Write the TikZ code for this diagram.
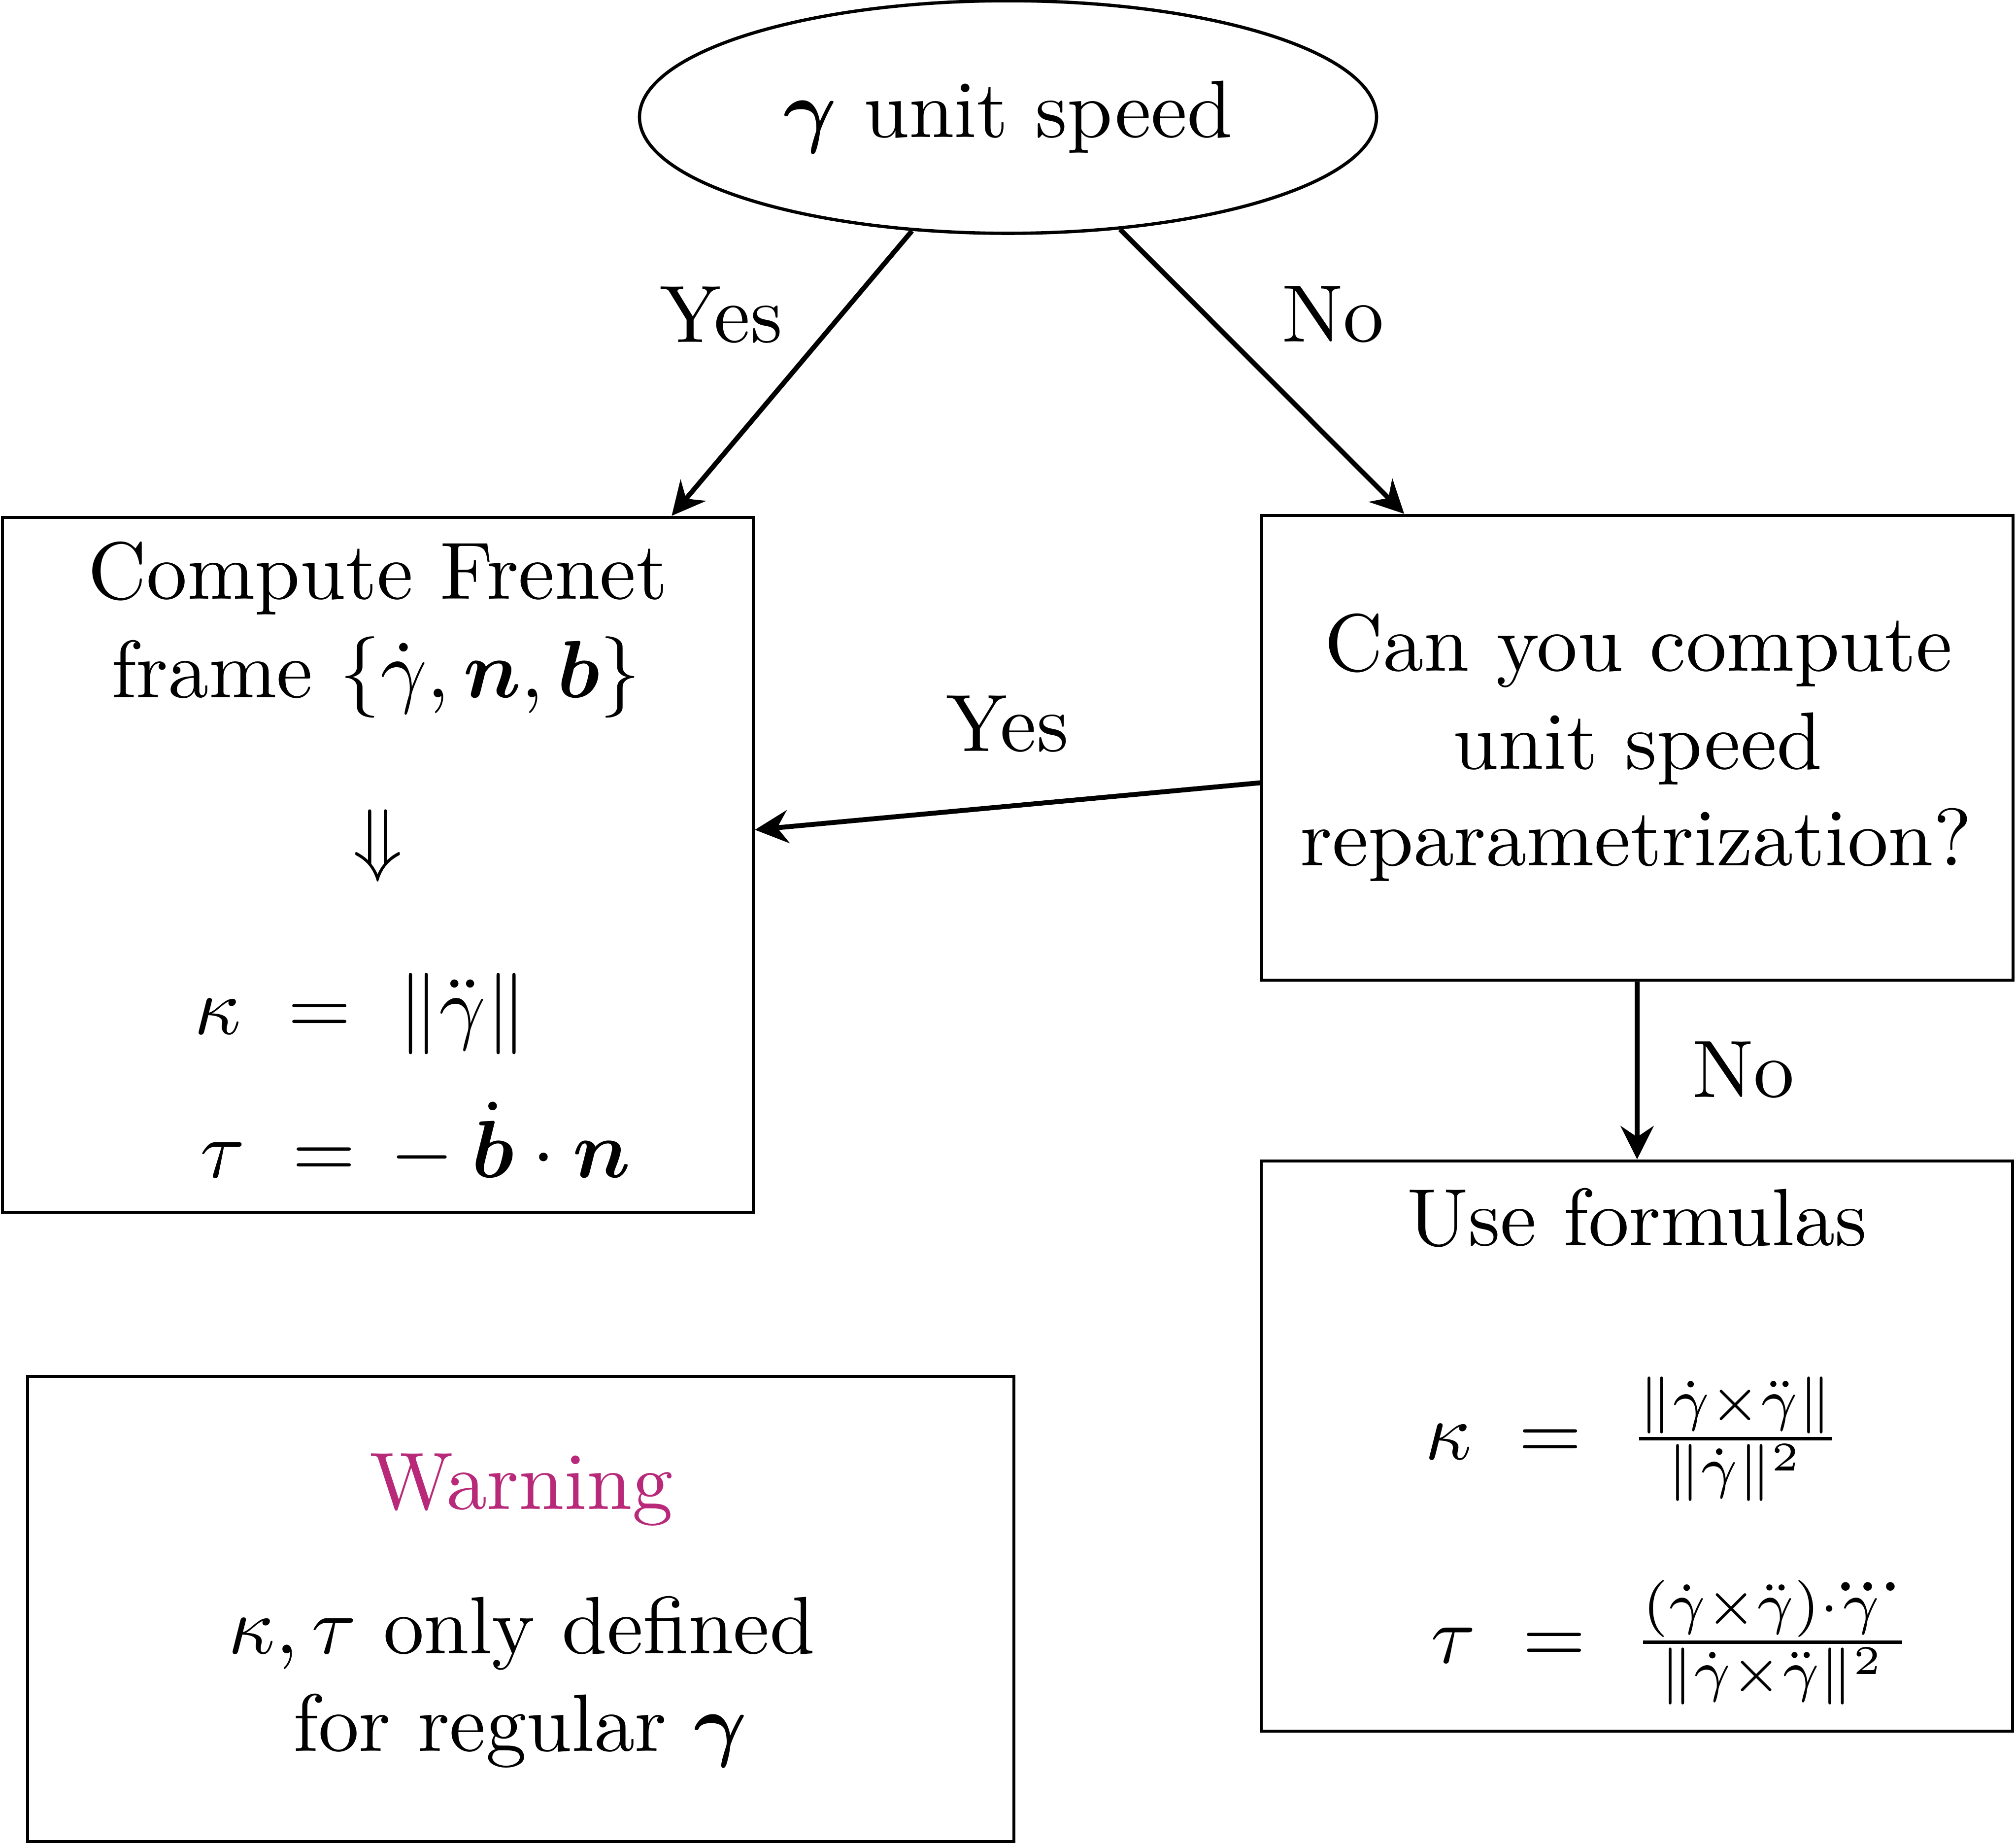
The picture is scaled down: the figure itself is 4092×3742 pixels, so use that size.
\documentclass[tikz,border=0pt]{standalone}
\usepackage{amsmath}
\usetikzlibrary{arrows.meta,shapes.geometric}
\definecolor{warncol}{RGB}{185,41,121}
\newcommand\pxu{0.0606pt}
\newcommand\eqrow[2]{\makebox[5em][r]{$#1$}\hspace{0.58em}$=$\hspace{0.58em}\makebox[5em][l]{$#2$}}
\newcommand\eqrowb[2]{\makebox[5em][r]{$#1$}\hspace{0.58em}$=$\hspace{0.43em}\makebox[5em][l]{$#2$}}
\begin{document}
\begin{tikzpicture}[x=0.0606pt,y=-0.0606pt,
  every node/.style={inner sep=0pt},
  frame/.style={draw, rectangle, line width=0.4pt},
  arr/.style={line width=0.6pt, -{Stealth[length=4.1pt,width=4.06pt,inset=1.35pt]}},
  txt/.style={anchor=base}]
\useasboundingbox (0,0) rectangle (4092,3742);

% boxes
\node[ellipse, draw, line width=0.4pt, minimum width=1496*\pxu, minimum height=472*\pxu] (ell) at (2046,237.5) {$\boldsymbol{\gamma}$ unit speed};
\node[frame, minimum width=1524*\pxu, minimum height=1410*\pxu] (lbox) at (767,1755) {};
\node[frame, minimum width=1525*\pxu, minimum height=943*\pxu] (rtop) at (3323.5,1517.5) {};
\node[frame, minimum width=1525*\pxu, minimum height=1157*\pxu] (rbot) at (3322.5,2934.5) {};
\node[frame, minimum width=2002*\pxu, minimum height=944*\pxu] (warn) at (1057,3265) {};

% left box text
\node[txt] (l1) at (767,1216) {Compute Frenet};
\node[txt] (l2) at (763,1416) {frame $\{\dot{\gamma},\boldsymbol{n},\boldsymbol{b}\}$};
\node (l3) at (767,1716) {$\Downarrow$};
\node[txt] (l4) at (649,2099) {\eqrow{\kappa}{\|\ddot{\gamma}\|}};
\node[txt] (l5) at (645,2390) {\eqrowb{\tau}{-\mkern4mu\dot{\boldsymbol{b}}\cdot\boldsymbol{n}}};

% right top text
\node[txt] (r1) at (3326,1361) {Can you compute};
\node[txt] (r2) at (3324,1560) {unit speed};
\node[txt] (r3) at (3321,1756) {reparametrization?};

% right bottom text
\node[txt] (b1) at (3323,2527) {Use formulas};
\node[txt] (b2) at (3147,2961) {\eqrow{\kappa}{\tfrac{\|\dot{\gamma}\times\ddot{\gamma}\|}{\|\dot{\gamma}\|^2}}};
\node[txt] (b3) at (3155,3374) {\eqrow{\tau}{\tfrac{(\dot{\gamma}\times\ddot{\gamma})\cdot\mkern-5mu\dddot{\gamma}}{\|\dot{\gamma}\times\ddot{\gamma}\|^2}}};

% warning text
\node[txt, text=warncol] (w1) at (1058,3062) {Warning};
\node[txt] (w2) at (1059,3355) {$\kappa,\tau$ only defined};
\node[txt] (w3) at (1056,3553) {for regular $\boldsymbol{\gamma}$};

% connectors
\draw[arr] (ell) -- (lbox);
\draw[arr] (ell) -- (rtop);
\draw[arr] (rtop) -- (lbox);
\draw[arr] (rtop) -- (rbot);

% labels
\node[txt] (y1) at (1464,695) {Yes};
\node[txt] (n1) at (2706,694) {No};
\node[txt] (y2) at (2045,1525) {Yes};
\node[txt] (n2) at (3539,2227) {No};
\end{tikzpicture}
\end{document}
